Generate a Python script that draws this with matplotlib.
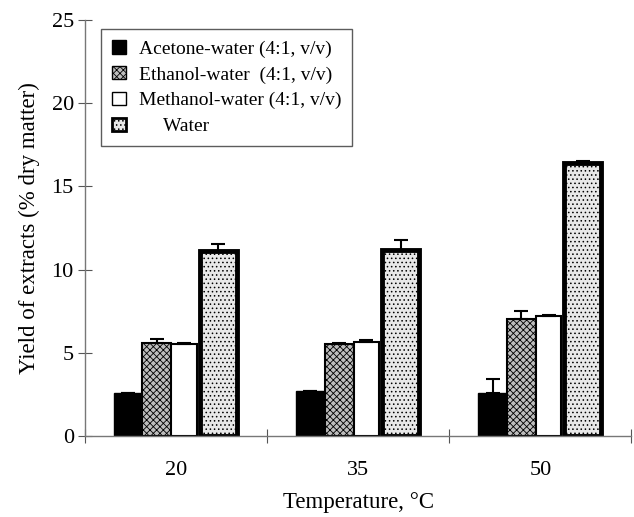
import numpy as np
import matplotlib.pyplot as plt
from matplotlib.patches import Patch

plt.rcParams['font.family'] = ['Liberation Serif', 'DejaVu Serif']
plt.rcParams['hatch.linewidth'] = 0.6

temps = ['20', '35', '50']
series = ['Acetone-water (4:1, v/v)', 'Ethanol-water  (4:1, v/v)',
          'Methanol-water (4:1, v/v)', '     Water']
acetone = [2.6, 2.7, 2.6]
acetone_err = [0.0, 0.0, 0.8]
ethanol = [5.6, 5.5, 7.0]
ethanol_err = [0.2, 0.1, 0.5]
methanol = [5.55, 5.65, 7.2]
methanol_err = [0.05, 0.1, 0.05]
water = [11.1, 11.2, 16.4]
water_err = [0.45, 0.6, 0.1]

fig = plt.figure(figsize=(6.34, 5.17), dpi=100)
ax = fig.add_axes([0.134, 0.157, 0.862, 0.804])

x = np.arange(len(temps))
ecol = dict(ecolor='black', capsize=5, error_kw=dict(elinewidth=1.5, capthick=1.5))

ax.bar(x - 0.34, acetone, width=0.155, align='edge', color='black',
       edgecolor='black', linewidth=1, yerr=[np.zeros(3), acetone_err], **ecol)
ax.bar(x - 0.185, ethanol, width=0.16, align='edge', color='#bdbdbd',
       edgecolor='black', hatch='xxxxx', linewidth=1.5,
       yerr=[np.zeros(3), ethanol_err], **ecol)
ax.bar(x - 0.025, methanol, width=0.14, align='edge', color='white',
       edgecolor='black', linewidth=1.5, yerr=[np.zeros(3), methanol_err], **ecol)
ax.bar(x + 0.13, water, width=0.205, align='edge', color='#e8e8e8',
       edgecolor='black', hatch='....', linewidth=3.5,
       yerr=[np.zeros(3), water_err], **ecol)

ax.set_xlim(-0.5, 2.5)
ax.set_ylim(0, 25)
ax.set_yticks(range(0, 26, 5))
ax.set_xticks([-0.5, 0.5, 1.5, 2.5])
ax.set_xticklabels([])
ax.set_xticks(x, minor=True)
ax.set_xticklabels(temps, minor=True)
ax.tick_params(axis='x', which='minor', length=0, pad=18, labelsize=16)
ax.tick_params(axis='x', which='major', direction='inout', length=10, color='#555555')
ax.tick_params(axis='y', direction='inout', length=10, color='#555555', labelsize=16, pad=3)

for s in ['top', 'right']:
    ax.spines[s].set_visible(False)
for s in ['left', 'bottom']:
    ax.spines[s].set_color('#777777')
    ax.spines[s].set_linewidth(1)

ax.set_ylabel('Yield of extracts (% dry matter)', fontsize=16.5, labelpad=8)
ax.set_xlabel('Temperature, \u00b0C', fontsize=16.5, va='center')
ax.xaxis.set_label_coords(0.5, -0.161)

handles = [Patch(facecolor='black', edgecolor='black'),
           Patch(facecolor='#bdbdbd', edgecolor='black', hatch='xxxxx'),
           Patch(facecolor='white', edgecolor='black'),
           Patch(facecolor='#e8e8e8', edgecolor='black', hatch='....', linewidth=2)]
leg = ax.legend(handles, series, loc='upper left', bbox_to_anchor=(0.03, 0.978),
                fontsize=14, frameon=True, fancybox=False, handlelength=0.7,
                handleheight=0.7, handletextpad=0.7, labelspacing=0.42,
                borderpad=0.55, borderaxespad=0)
leg.get_frame().set_edgecolor('#333333')
leg.get_frame().set_linewidth(1)

fig.savefig('out.png', dpi=100)
